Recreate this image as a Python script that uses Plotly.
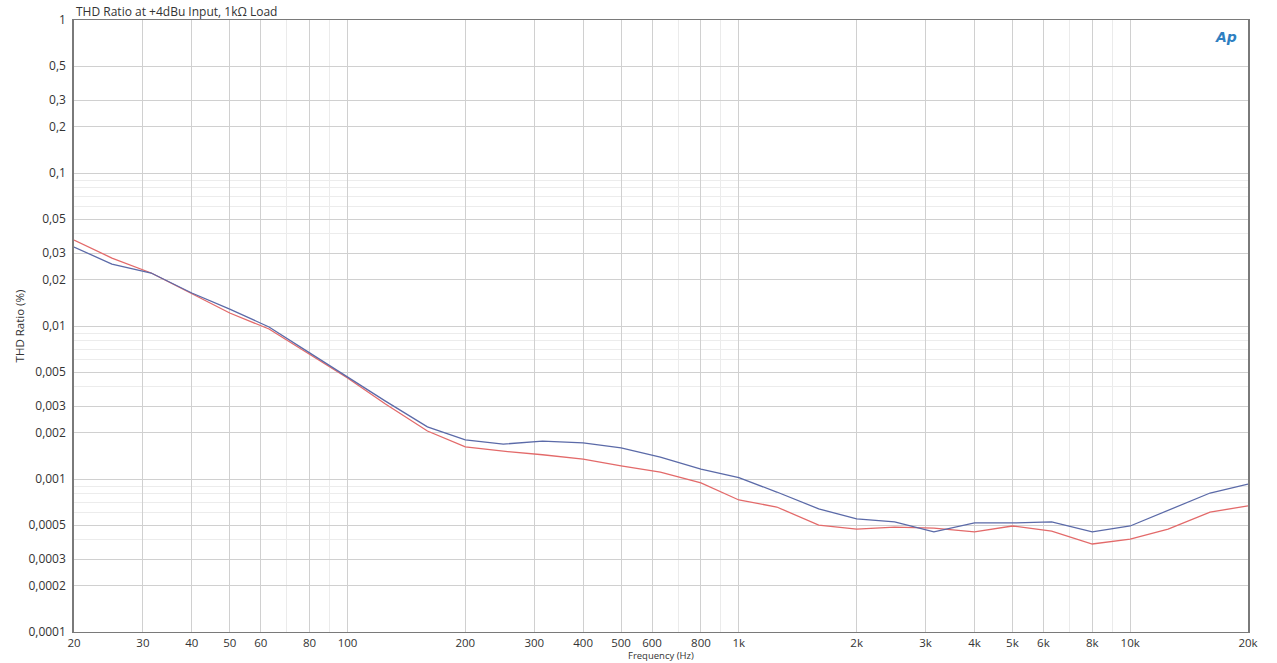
import plotly.graph_objs as go
import numpy as np

# 1/3-octave measurement points (Hz)
freq = [20, 25, 31.5, 40, 50, 63, 80, 100, 125, 160, 200, 250, 315, 400, 500, 630,
        800, 1000, 1250, 1600, 2000, 2500, 3150, 4000, 5000, 6300, 8000, 10000,
        12500, 16000, 20000]

# THD ratio (%) - channel A (blue)
thd_blue = [0.0328, 0.0254, 0.0222, 0.01643, 0.0129, 0.00985, 0.00667, 0.00464,
            0.00323, 0.00219, 0.0018, 0.00169, 0.00177, 0.00172, 0.0016, 0.00139,
            0.00116, 0.00102, 0.000822, 0.000637, 0.000548, 0.000524, 0.000451,
            0.000516, 0.000516, 0.000524, 0.000451, 0.000493, 0.000627, 0.00081,
            0.000927]

# THD ratio (%) - channel B (red)
thd_red = [0.0365, 0.0278, 0.0222, 0.0162, 0.01216, 0.00956, 0.00656, 0.00457,
           0.00309, 0.00206, 0.00162, 0.00152, 0.00144, 0.00135, 0.00122, 0.00111,
           0.000942, 0.000729, 0.000656, 0.0005, 0.000471, 0.000485, 0.000478,
           0.000451, 0.000493, 0.000457, 0.000376, 0.000405, 0.000471, 0.000608,
           0.000667]

x_ticks = [20, 30, 40, 50, 60, 80, 100, 200, 300, 400, 500, 600, 800, 1000,
           2000, 3000, 4000, 5000, 6000, 8000, 10000, 20000]
x_labels = ["20", "30", "40", "50", "60", "80", "100", "200", "300", "400", "500",
            "600", "800", "1k", "2k", "3k", "4k", "5k", "6k", "8k", "10k", "20k"]
x_minor = [70, 90, 700, 900, 7000, 9000]

y_ticks = [1, 0.5, 0.3, 0.2, 0.1, 0.05, 0.03, 0.02, 0.01, 0.005, 0.003, 0.002,
           0.001, 0.0005, 0.0003, 0.0002, 0.0001]
y_labels = ["1", "0,5", "0,3", "0,2", "0,1", "0,05", "0,03", "0,02", "0,01",
            "0,005", "0,003", "0,002", "0,001", "0,0005", "0,0003", "0,0002", "0,0001"]
y_minor = [m * 10.0 ** e for e in range(-4, 0) for m in (0.4, 0.6, 0.7, 0.8, 0.9)]

FONT = "Open Sans, Noto Sans, sans-serif"

fig = go.Figure()
fig.add_trace(go.Scatter(x=freq, y=thd_red, mode="lines",
                         line=dict(color="#e36a6a", width=1.3), showlegend=False))
fig.add_trace(go.Scatter(x=freq, y=thd_blue, mode="lines",
                         line=dict(color="#5b6aa8", width=1.3), showlegend=False))

fig.update_layout(
    width=1277, height=663,
    margin=dict(l=74, r=29, t=20, b=31),
    paper_bgcolor="white", plot_bgcolor="white",
    font=dict(family=FONT, size=12, color="#333"),
    xaxis=dict(type="log", range=[np.log10(20), np.log10(20000)],
               tickmode="array", tickvals=x_ticks, ticktext=x_labels,
               showgrid=True, gridcolor="#d0d0d0", gridwidth=1,
               showline=True, linecolor="#7a7a7a", linewidth=1, mirror=True,
               ticks="", ticklabelstandoff=0,
               tickfont=dict(size=11.5, color="#333"),
               minor=dict(tickmode="array", tickvals=x_minor, showgrid=True,
                          gridcolor="#ebebeb", ticks="")),
    yaxis=dict(type="log", range=[-4, 0],
               tickmode="array", tickvals=y_ticks, ticktext=y_labels,
               showgrid=True, gridcolor="#d0d0d0", gridwidth=1,
               showline=True, linecolor="#7a7a7a", linewidth=1.5, mirror=True,
               ticks="", ticklabelstandoff=4,
               tickfont=dict(size=12, color="#333"),
               title=dict(text="THD Ratio (%)", font=dict(size=11.5, color="#333"),
                          standoff=1),
               minor=dict(tickmode="array", tickvals=y_minor, showgrid=True,
                          gridcolor="#ececec", ticks="")),
    annotations=[
        dict(text="THD Ratio at +4dBu Input, 1kΩ Load", xref="paper", yref="paper",
             x=0, y=1, xanchor="left", yanchor="bottom", showarrow=False,
             font=dict(size=12, color="#333"), yshift=-2),
        dict(text="<b><i>Ap</i></b>", xref="paper", yref="paper",
             x=0.992, y=0.972, xanchor="right", yanchor="middle", showarrow=False,
             font=dict(size=14, color="#2f7fc1", family="DejaVu Sans")),
        dict(text="Frequency (Hz)", xref="paper", yref="paper",
             x=0.5, y=0, xanchor="center", yanchor="bottom", showarrow=False,
             yshift=-32, font=dict(size=9.5, color="#333")),
    ],
)

# drop the default 8px body margin so the figure fills the window exactly
fig.write_html("out.html", config={"displayModeBar": False},
               post_script="document.body.style.margin='0';")
